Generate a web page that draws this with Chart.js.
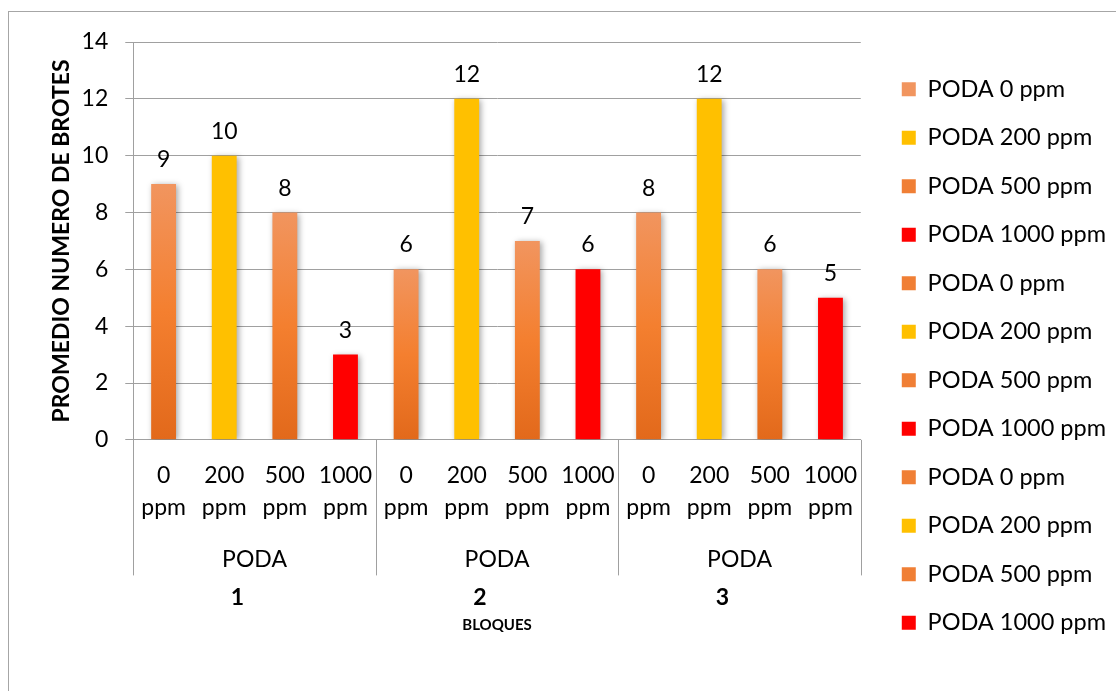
<!DOCTYPE html>
<html>
<head>
<meta charset="utf-8">
<script src="https://cdn.jsdelivr.net/npm/chart.js@4.4.1/dist/chart.umd.min.js"></script>
<style>
  html, body { margin: 0; padding: 0; background: #fff; overflow: hidden; }
  #wrap { position: relative; width: 1116px; height: 691px; }
  #frame { position: absolute; left: 8px; top: 11px; width: 1200px; height: 800px; border: 1px solid #a6a6a6; }
  #c { position: absolute; left: 0; top: 0; }
</style>
</head>
<body>
<div id="wrap">
  <div id="frame"></div>
  <canvas id="c" width="1116" height="691"></canvas>
</div>
<script>
// Promedio de brotes por bloque y dosis de poda
const doses = ["0 ppm", "200 ppm", "500 ppm", "1000 ppm"];
const groups = ["PODA", "PODA", "PODA"];
const blocks = ["1", "2", "3"];
const values = [9, 10, 8, 3, 6, 12, 7, 6, 8, 12, 6, 5];
const yTicks = [0, 2, 4, 6, 8, 10, 12, 14];

const FONT = "Lato, 'Open Sans', sans-serif";
const GRID = "#a0a0a0";
const FS = 23;

// one legend entry / series per bar, like the spreadsheet
const labels = [];
const seriesNames = [];
const doseIdx = [];
blocks.forEach(() => {
  doses.forEach((d, j) => {
    labels.push(d.split(" "));
    seriesNames.push("PODA " + d);
    doseIdx.push(j);
  });
});

function orangeFill(ctx) {
  const chart = ctx.chart;
  if (!chart.chartArea || ctx.raw == null) return "#F07F35";
  const y = chart.scales.y;
  const top = y.getPixelForValue(ctx.raw);
  const bot = y.getPixelForValue(0);
  const g = chart.ctx.createLinearGradient(0, top, 0, bot);
  g.addColorStop(0, "#F1955F");
  g.addColorStop(0.5, "#F47F2F");
  g.addColorStop(1, "#E2691B");
  return g;
}
const doseColours = [orangeFill, "#FFC000", orangeFill, "#FF0000"];

const datasets = values.map((v, i) => ({
  label: seriesNames[i],
  data: values.map((_, k) => (k === i ? v : null)),
  backgroundColor: doseColours[doseIdx[i]],
  borderWidth: 0,
  xAxisID: "x",
  yAxisID: "y",
}));

const shadow = {
  id: "shadow",
  beforeDatasetsDraw(chart) {
    const c = chart.ctx;
    c.save();
    c.shadowColor = "rgba(0,0,0,0.35)";
    c.shadowBlur = 6;
    c.shadowOffsetX = 2;
    c.shadowOffsetY = 1;
  },
  afterDatasetsDraw(chart) {
    chart.ctx.restore();
  },
};

const valueLabels = {
  id: "valueLabels",
  afterDatasetsDraw(chart) {
    const c = chart.ctx;
    c.save();
    c.font = FS + "px " + FONT;
    c.fillStyle = "#000";
    c.textAlign = "center";
    c.textBaseline = "alphabetic";
    chart.data.datasets.forEach((ds, i) => {
      const meta = chart.getDatasetMeta(i);
      meta.data.forEach((el, k) => {
        if (ds.data[k] == null) return;
        c.fillText(String(ds.data[k]), el.x, el.y - 17);
      });
    });
    c.restore();
  },
};

// group separators under the axis (every 4 categories)
const separators = {
  id: "separators",
  afterDraw(chart) {
    const x = chart.scales.x;
    const x2 = chart.scales.x2;
    const c = chart.ctx;
    const n = chart.data.labels.length;
    const per = n / groups.length;
    c.save();
    c.strokeStyle = GRID;
    c.lineWidth = 1;
    for (let g = 0; g <= groups.length; g++) {
      const px = Math.round(x.left + (x.width * g * per) / n) + 0.5;
      c.beginPath();
      c.moveTo(px, chart.chartArea.bottom);
      c.lineTo(px, x2.bottom);
      c.stroke();
    }
    c.restore();
  },
};

// empty axes used only to reserve room around the plot
const spacer = (pos, size, weight, display) => ({
  type: "linear",
  position: pos,
  weight,
  display,
  grid: { display: false },
  border: { display: false },
  ticks: { display: false },
  afterFit: (s) => { if (pos === "top" || pos === "bottom") s.height = size; else s.width = size; },
});

new Chart(document.getElementById("c"), {
  type: "bar",
  data: { labels, datasets },
  plugins: [shadow, valueLabels, separators],
  options: {
    responsive: false,
    animation: false,
    layout: { padding: { left: 48, top: 21, right: 0, bottom: 0 } },
    datasets: { bar: { grouped: false, categoryPercentage: 1, barPercentage: 0.41 } },
    plugins: {
      tooltip: { enabled: false },
      legend: {
        position: "right",
        align: "center",
        labels: { boxWidth: 14, boxHeight: 14, padding: 25, color: "#000", font: { family: FONT, size: 23.5 } },
      },
    },
    scales: {
      x: {
        weight: 0,
        grid: { display: true, drawOnChartArea: false, drawTicks: false, color: "rgba(0,0,0,0)" },
        border: { color: GRID },
        ticks: { color: "#000", padding: 20, maxRotation: 0, autoSkip: false, font: { family: FONT, size: FS, lineHeight: 1.39 } },
      },
      y: {
        min: 0,
        max: 14,
        afterBuildTicks: (s) => { s.ticks = yTicks.map((v) => ({ value: v })); },
        grid: { color: GRID, tickLength: 8, tickColor: GRID },
        border: { color: GRID },
        ticks: { color: "#000", padding: 17, font: { family: FONT, size: FS } },
        title: {
          display: true,
          text: "PROMEDIO NUMERO DE BROTES",
          color: "#000",
          font: { family: FONT, size: 23, weight: "bold" },
          padding: { top: 0, bottom: -11 },
        },
      },
      x2: {
        type: "category",
        position: "bottom",
        weight: 1,
        labels: groups,
        offset: true,
        grid: { display: false, drawTicks: false },
        border: { display: false },
        ticks: { color: "#000", padding: 2, font: { family: FONT, size: FS } },
      },
      x3: {
        type: "category",
        position: "bottom",
        weight: 2,
        labels: blocks,
        offset: true,
        grid: { display: false, drawTicks: false },
        border: { display: false },
        ticks: { color: "#000", padding: 8, labelOffset: -17, font: { family: FONT, size: FS, weight: "bold" } },
        title: { display: true, text: "BLOQUES", color: "#000", padding: { top: -3, bottom: 0 }, font: { family: FONT, size: 15, weight: "bold" } },
      },
      xt: spacer("top", 21, 0, true),
      xb: spacer("bottom", 57, 3, true),
      yr: spacer("right", 16, 0, false),
    },
  },
});
</script>
</body>
</html>
